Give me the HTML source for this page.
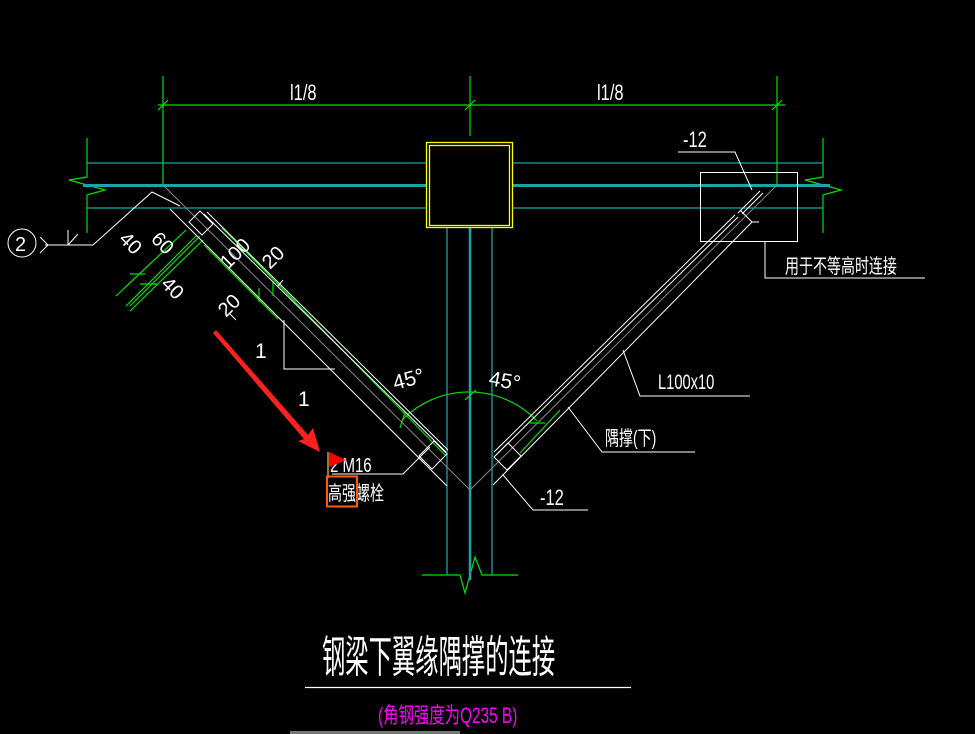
<!DOCTYPE html>
<html><head><meta charset="utf-8"><style>
html,body{margin:0;padding:0;background:#000;}
svg{display:block}
text{font-family:"Liberation Sans","Noto Sans CJK SC",sans-serif;fill:#fff;}
</style></head><body>
<svg width="975" height="734" viewBox="0 0 975 734" xmlns="http://www.w3.org/2000/svg">
<rect width="975" height="734" fill="#000"/>
<!-- dimension -->
<g stroke="#00e000" stroke-width="1.2" fill="none">
<line x1="163" y1="76" x2="163" y2="186"/>
<line x1="470" y1="76" x2="470" y2="136"/>
<line x1="777" y1="76" x2="777" y2="186"/>
<line x1="158" y1="105" x2="785" y2="105"/>
<line x1="158" y1="110" x2="168" y2="100"/>
<line x1="465" y1="110" x2="475" y2="100"/>
<line x1="772" y1="110" x2="782" y2="100"/>
<!-- break lines -->
<polyline points="87,138 87,177 69,180 105,190 87,195 87,233"/>
<polyline points="823,138 823,177 805,180 841,190 823,195 823,233"/>
<polyline points="422,575 460,575 465,593 475,557 482,575 518,575"/>
<!-- arc -->
<path d="M402,420 A94,94 0 0 1 537,421"/>
<line x1="400" y1="428" x2="405" y2="412"/><line x1="465" y1="400" x2="476" y2="390"/><line x1="530" y1="423" x2="545" y2="423"/>
<!-- green brace lines -->
<line x1="220" y1="225" x2="445" y2="455"/>
<line x1="520" y1="453" x2="560" y2="410"/>
<line x1="222" y1="228" x2="295" y2="301"/><line x1="204" y1="245" x2="278" y2="319"/>
<line x1="186" y1="230" x2="116" y2="296"/><line x1="196" y1="236" x2="126" y2="306"/><line x1="200" y1="236" x2="130" y2="306"/><line x1="203" y1="240" x2="130" y2="311"/>
<line x1="130" y1="274" x2="145" y2="274"/><line x1="140" y1="284" x2="157" y2="284"/>
<line x1="273" y1="282" x2="273" y2="296"/><line x1="259" y1="288" x2="259" y2="302"/>
</g>
<!-- beam cyan -->
<g stroke="#1aa3a8" fill="none">
<line x1="87" y1="163" x2="426" y2="163" stroke-width="1.3"/>
<line x1="513" y1="163" x2="823" y2="163" stroke-width="1.3"/>
<line x1="87" y1="208" x2="426" y2="208" stroke-width="1.3"/>
<line x1="513" y1="208" x2="823" y2="208" stroke-width="1.3"/>
<line x1="83" y1="185.5" x2="426" y2="185.5" stroke-width="3"/>
<line x1="513" y1="185.5" x2="830" y2="185.5" stroke-width="3"/>
<line x1="447" y1="228" x2="447" y2="575" stroke-width="1.3"/>
<line x1="492" y1="228" x2="492" y2="575" stroke-width="1.3"/>
<line x1="470" y1="228" x2="470" y2="580" stroke-width="2.5"/>
</g>
<!-- column box -->
<rect x="426.5" y="142.5" width="86" height="85" fill="none" stroke="#ffff00" stroke-width="1.3"/>
<rect x="429.5" y="145.5" width="80" height="80" fill="none" stroke="#ffff00" stroke-width="1.3"/>
<!-- gray centre lines -->
<g stroke="#888" stroke-width="1" fill="none">
<line x1="163" y1="185" x2="470" y2="490"/>
<line x1="777" y1="185" x2="470" y2="490"/>
</g>
<!-- braces -->
<g stroke="#fff" fill="none" stroke-width="1">
<line x1="204" y1="214" x2="446" y2="452"/><line x1="207" y1="212" x2="448" y2="450"/>
<line x1="170" y1="209" x2="447" y2="486"/>
<line x1="735" y1="215" x2="494" y2="452"/><line x1="738" y1="217" x2="497" y2="454"/>
<line x1="752" y1="222" x2="493" y2="485"/>
<line x1="760" y1="191" x2="738" y2="213"/><line x1="763" y1="193" x2="742" y2="214"/>
<polyline points="740,210 752,222 759,222"/>
<!-- gussets -->
<polygon points="419,456 434,441 447,454 432,469"/>
<polygon points="494,457 508,443 521,456 507,470"/>
<polygon points="189,222 200,211 213,224 202,235"/>
<!-- right plate box -->
<rect x="700.5" y="172.5" width="97" height="69"/>
<!-- leaders -->
<polyline points="678,152 735,152 752,190"/>
<polyline points="765,241 765,278 925,278"/>
<polyline points="623,350 640,396 750,396"/>
<polyline points="568,407 602,452 695,452"/>
<polyline points="503,475 533,510 588,510"/>
<polyline points="332,474 403,474 430,447"/>
<polyline points="45,245 93,245 152,192 180,206"/>
<line x1="68" y1="230" x2="68" y2="245"/><line x1="68" y1="245" x2="78" y2="234"/>
<polyline points="40,237 48,245 40,253"/>
<circle cx="22" cy="243" r="14"/>
<polyline points="284,320 284,369 335,369"/>
<line x1="236" y1="320" x2="230" y2="314"/>
<line x1="278" y1="286" x2="283" y2="280"/>
</g>
<!-- labels -->
<g font-size="22">
<text x="290" y="100" transform="translate(290,100) scale(0.75,1) translate(-290,-100)">l1/8</text>
<text x="597" y="100" transform="translate(597,100) scale(0.75,1) translate(-597,-100)">l1/8</text>
<text x="683" y="147" transform="translate(683,147) scale(0.75,1) translate(-683,-147)">-12</text>
<text x="540" y="505" transform="translate(540,505) scale(0.75,1) translate(-540,-505)">-12</text>
<text x="658" y="389" font-size="21" transform="translate(658,389) scale(0.7,1) translate(-658,-389)">L100x10</text>
<text x="330" y="472" font-size="20" transform="translate(330,472) scale(0.75,1) translate(-330,-472)">2 M16</text>
<text x="255" y="358" font-size="21">1</text>
<text x="298" y="406" font-size="21">1</text>
<text x="395" y="390" font-size="21" transform="rotate(-15 395 390)">45°</text>
<text x="488" y="385" font-size="21" transform="rotate(10 488 385)">45°</text>
<text x="118" y="240" font-size="20" transform="rotate(45 118 240)">40</text>
<text x="150" y="240" font-size="20" transform="rotate(45 150 240)">60</text>
<text x="160" y="285" font-size="20" transform="rotate(45 160 285)">40</text>
<text x="228" y="270" font-size="20" transform="rotate(-45 228 270)">100</text>
<text x="226" y="318" font-size="20" transform="rotate(-45 226 318)">20</text>
<text x="270" y="270" font-size="20" transform="rotate(-45 270 270)">20</text>
<text x="15" y="251" font-size="20">2</text>
</g>
<g font-size="20">
<text x="785" y="273" transform="translate(785,273) scale(0.7,1) translate(-785,-273)">用于不等高时连接</text>
<text x="605" y="445" transform="translate(605,445) scale(0.7,1) translate(-605,-445)">隅撑(下)</text>
<text x="328" y="500" transform="translate(328,500) scale(0.7,1) translate(-328,-500)">高强螺栓</text>
</g>
<text x="322" y="672" font-size="44" transform="translate(322,672) scale(0.53,1) translate(-322,-672)">钢梁下翼缘隅撑的连接</text>
<line x1="305" y1="687.5" x2="631" y2="687.5" stroke="#fff" stroke-width="1.2"/>
<text x="378" y="723" font-size="22" style="fill:#ff00ff" transform="translate(378,723) scale(0.7,1) translate(-378,-723)">(角钢强度为Q235 B)</text>
<!-- annotations -->
<polygon points="213,333 216,330 308,435 313,428 320,452 298,441 304,439" fill="#ff2020"/>
<line x1="328" y1="452" x2="328" y2="478" stroke="#a07040" stroke-width="2"/>
<polygon points="329,452 346,460 329,467" fill="#ff0000"/>
<rect x="327" y="476.5" width="30" height="30" fill="none" stroke="#ff5a10" stroke-width="2"/>
<rect x="290" y="731" width="170" height="3" fill="#777"/>
</svg>
</body></html>
